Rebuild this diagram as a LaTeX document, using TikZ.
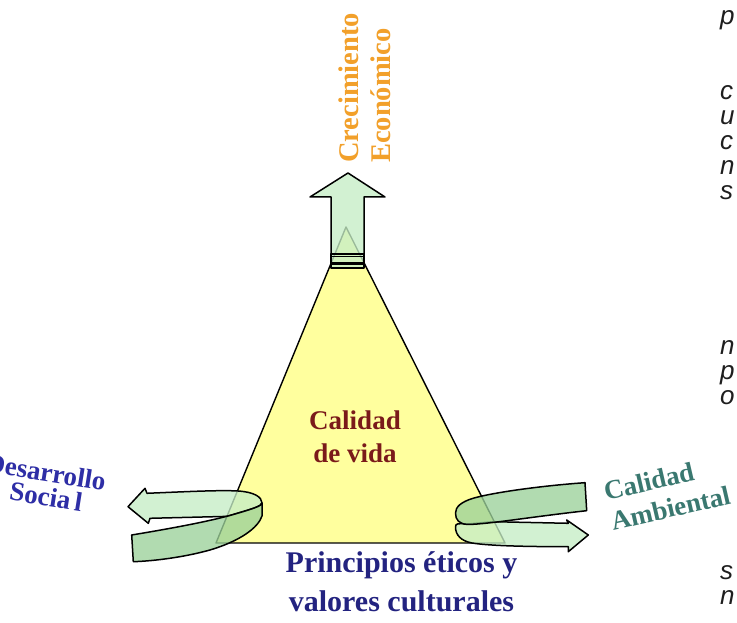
\documentclass[tikz,border=0pt]{standalone}
\usepackage{fontspec}
\usepackage{xcolor}
\setmainfont{Liberation Serif}
\newfontfamily\sidefont{Liberation Sans}
\definecolor{vidayellow}{HTML}{FFFF9E}
\definecolor{bandlight}{HTML}{C6EEC6}
\definecolor{banddark}{HTML}{9CD29A}
\definecolor{crecorange}{HTML}{F2A02A}
\definecolor{vidared}{HTML}{7A1A1A}
\definecolor{princblue}{HTML}{232380}
\definecolor{socialblue}{HTML}{2E2EA6}
\definecolor{ambteal}{HTML}{3A7870}
\definecolor{sidegray}{HTML}{1E1E1E}

\begin{document}
\begin{tikzpicture}[x=1pt,y=1pt]
        \tikzset{ribbon/.append style={draw=black, line width=1.5pt,
                    line join=round, fill opacity=0.78},
                 wordlbl/.append style={inner sep=0pt, align=center}}
        \useasboundingbox (0,0) rectangle (737,623);
        \fill[white] (0,0) rectangle (737,623);
        % triangle
        \draw[line width=1.4pt, line join=round, fill=vidayellow] (216,80) -- (346,396) -- (505,80) -- cycle;
        % arrow up
        \draw[ribbon, fill=bandlight] (348,450) -- (385,426) -- (364,426) -- (364,369) -- (331,369) -- (331,426) -- (310,426) -- cycle;
        \draw[ribbon, fill=bandlight] (331,369) rectangle (364,355);
        \draw[line width=1pt] (331,366) -- (364,366);
        \draw[line width=2.2pt] (331,359.5) -- (364,359.5);
        % arrow left
        \draw[ribbon, fill=bandlight] (128,116.3) -- (145,134.7) -- (147,129.7) .. controls (190,131.5) and (220,133) .. (238,132) .. controls (254,131) and (262,126) .. (262,120) .. controls (262,117) and (252,114) .. (235,109) -- (227,106.6) -- (150,104.7) -- (148.3,99.7) -- cycle;
        \draw[ribbon, fill=banddark] (131.7,88) .. controls (180,96) and (215,103) .. (235,109) .. controls (252,114) and (262,117) .. (262,120) -- (262,107) .. controls (258,95) and (240,82) .. (210,73) .. controls (185,66) and (155,62) .. (133.3,61.3) -- cycle;
        % arrow right
        \draw[ribbon, fill=bandlight] (568.3,99.7) -- (566.7,103) -- (588.3,88) -- (568.3,71.3) -- (568.3,76.3) .. controls (530,76.3) and (490,77) .. (472,80) .. controls (461,82) and (455.5,88) .. (455.5,96) .. controls (455.5,100) and (458,99.5) .. (468,99) -- (493,101.3) -- cycle;
        \draw[ribbon, fill=banddark] (585,140.3) .. controls (545,137.5) and (495,131) .. (473,124.7) .. controls (461,121) and (455.5,116) .. (455.5,110) .. controls (455.5,103) and (459,99) .. (468,98.5) .. controls (490,99) and (530,106) .. (586.7,112.3) -- cycle;
        % labels
        \node[wordlbl, text=crecorange, rotate=90, align=left, font=\bfseries\fontsize{28.5}{32}\selectfont] (crec) at (365,535) {Crecimiento\\Económico};
        \node[wordlbl, text=vidared, font=\bfseries\fontsize{27}{33}\selectfont] (vida) at (355,186) {Calidad\\de vida};
        \node[wordlbl, text=princblue, font=\bfseries\fontsize{30}{39}\selectfont] (etica) at (401.5,41) {Principios éticos y\\valores culturales};
        \node[wordlbl, text=socialblue, rotate=-9, font=\bfseries\fontsize{27}{24}\selectfont] (social) at (44,139) {Desarrollo\\\hspace{8pt}Socia\hspace{4pt}l};
        \node[wordlbl, text=ambteal, rotate=13, align=left, font=\bfseries\fontsize{27}{31}\selectfont] (ambiente) at (667,130) {Calidad\\Ambiental};
        \foreach \ch/\yb in {p/598, c/523, u/498, c/473, n/448, s/423, n/268, p/243, o/218, s/43, n/18}
            \node[anchor=base west, inner sep=0pt, text=sidegray, font=\sidefont\itshape\fontsize{26}{28}\selectfont] (side-\yb) at (720,\yb) {\ch};
    \end{tikzpicture}
\end{document}
